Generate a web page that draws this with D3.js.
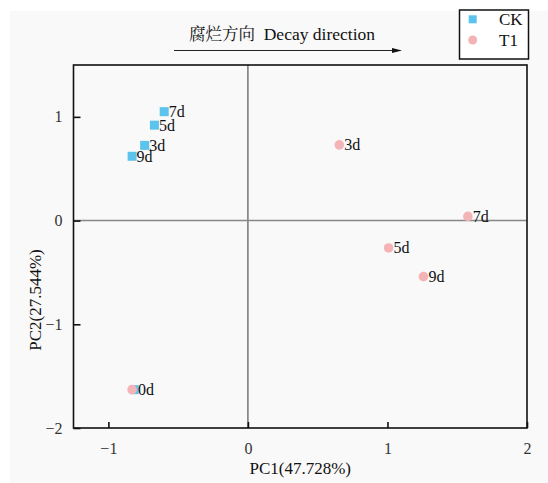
<!DOCTYPE html>
<html><head><meta charset="utf-8">
<script src="https://cdn.jsdelivr.net/npm/d3@7"></script>
<style>body{margin:0;background:#fff;} text{font-family:"Liberation Serif","Times New Roman",serif;}</style>
</head><body><svg id="c" width="548" height="483"></svg>
<script>
const groups = ["CK", "T1"];
const colors = ["#5cc3ed", "#f4b3b7"];
const labels = ["0d", "3d", "5d", "7d", "9d"];
const ckPC1 = [-0.815, -0.74, -0.67, -0.60, -0.83];
const ckPC2 = [-1.63, 0.725, 0.92, 1.05, 0.62];
const t1PC1 = [-0.83, 0.655, 1.008, 1.576, 1.258];
const t1PC2 = [-1.63, 0.73, -0.264, 0.04, -0.54];
const xTicks = [-1, 0, 1, 2];
const yTicks = [-2, -1, 0, 1];

const svg = d3.select("#c");
svg.append("rect").attr("x",10).attr("y",11).attr("width",538).attr("height",472).attr("fill","#f9f9f9");

const L=73.5, R=527, T=65, B=428;
const x = d3.scaleLinear().domain([-1.25, 2]).range([L, R]);
const y = d3.scaleLinear().domain([-2, 1.5]).range([B, T]);

// zero lines
svg.append("line").attr("x1",x(0)).attr("x2",x(0)).attr("y1",T).attr("y2",B).attr("stroke","#555").attr("stroke-width",1.2);
svg.append("line").attr("x1",L).attr("x2",R).attr("y1",y(0)).attr("y2",y(0)).attr("stroke","#888").attr("stroke-width",1.5);

// axes
const xa = svg.append("g").attr("transform",`translate(0,${B})`)
  .call(d3.axisBottom(x).tickValues(xTicks).tickSize(-6).tickPadding(15).tickFormat(d3.format("d")));
const ya = svg.append("g").attr("transform",`translate(${L},0)`)
  .call(d3.axisLeft(y).tickValues(yTicks).tickSize(-7).tickPadding(11).tickFormat(d3.format("d")));
[xa, ya].forEach(a => {
  a.select(".domain").remove();
  a.selectAll(".tick line").attr("stroke","#111").attr("stroke-width",1.6);
  a.selectAll(".tick text").attr("font-size",16).attr("fill","#333").style("font-family","Liberation Serif, serif");
});

// frame
svg.append("rect").attr("x",L).attr("y",T).attr("width",R-L).attr("height",B-T).attr("fill","none").attr("stroke","#111").attr("stroke-width",1.6);

// points
const ck = labels.map((l,i)=>({l, px: ckPC1[i], py: ckPC2[i]}));
const t1 = labels.map((l,i)=>({l, px: t1PC1[i], py: t1PC2[i]}));
const s = 9;
svg.append("g").selectAll("rect").data(ck).join("rect")
  .attr("x",d=>x(d.px)-s/2).attr("y",d=>y(d.py)-s/2).attr("width",s).attr("height",s).attr("fill",colors[0]);
svg.append("g").selectAll("circle").data(t1).join("circle")
  .attr("cx",d=>x(d.px)).attr("cy",d=>y(d.py)).attr("r",4.8).attr("fill",colors[1]);
svg.append("g").selectAll("text").data(ck.filter(d=>d.l!=="0d")).join("text")
  .attr("x",d=>x(d.px)+4.5).attr("y",d=>y(d.py)+5.5).attr("font-size",16).attr("fill","#111").text(d=>d.l);
svg.append("g").selectAll("text").data(t1).join("text")
  .attr("x",d=>x(d.px)+ (d.l==="0d"?6:5)).attr("y",d=>y(d.py)+5.5).attr("font-size",16).attr("fill","#111").text(d=>d.l);

// axis titles
svg.append("text").attr("x",(L+R)/2).attr("y",474).attr("text-anchor","middle").attr("font-size",17).attr("fill","#111").text("PC1(47.728%)");
svg.append("text").attr("transform",`translate(41,${300}) rotate(-90)`).attr("text-anchor","middle").attr("font-size",17).attr("fill","#111").text("PC2(27.544%)");

// title + arrow
const title = svg.append("text").attr("x",282).attr("y",40).attr("text-anchor","middle").attr("font-size",17.5).attr("fill","#111");
title.append("tspan").style("font-family","'Noto Serif CJK SC','Noto Sans CJK SC',serif").attr("font-size",16.5).text("腐烂方向");
title.append("tspan").text("\u00a0 Decay direction");
svg.append("line").attr("x1",174).attr("x2",394).attr("y1",50.5).attr("y2",50.5).attr("stroke","#222").attr("stroke-width",1);
svg.append("path").attr("d","M392,48 L402,50.5 L392,53 Z").attr("fill","#111");

// legend
svg.append("rect").attr("x",459.5).attr("y",10).attr("width",69).attr("height",49).attr("fill","#fff").attr("stroke","#111").attr("stroke-width",1.5);
svg.append("rect").attr("x",472.7-4).attr("y",19.3-4).attr("width",8).attr("height",8).attr("fill",colors[0]);
svg.append("circle").attr("cx",472.7).attr("cy",40).attr("r",4.5).attr("fill",colors[1]);
svg.append("text").attr("x",499).attr("y",25).attr("font-size",17).attr("fill","#111").text(groups[0]);
svg.append("text").attr("x",499).attr("y",46).attr("font-size",17).attr("fill","#111").text(groups[1]);
</script></body></html>
